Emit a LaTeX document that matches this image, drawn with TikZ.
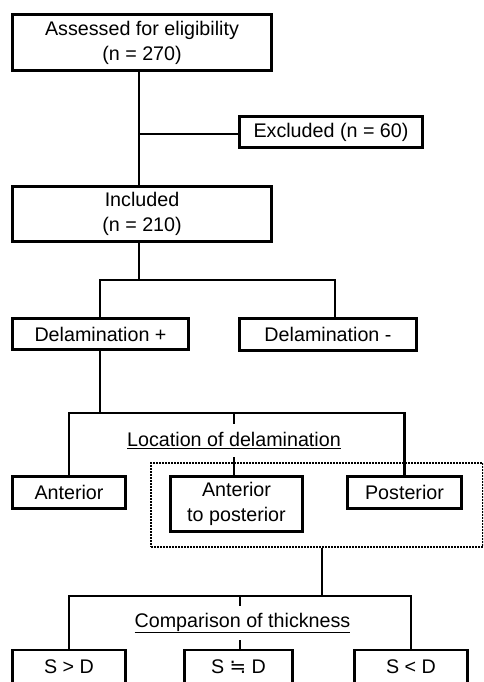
\documentclass[tikz,border=0pt]{standalone}
\usepackage{fontspec}
\setmainfont{Liberation Sans}
\newfontfamily\eqsymfont{DejaVu Sans}

\begin{document}
\begin{tikzpicture}[x=1pt, y=-1pt, line width=2.2pt,
         font=\fontsize{19.7}{25}\selectfont]
  \tikzstyle{box}=[draw=black, shape=rectangle, inner sep=0pt, align=center]
  \tikzstyle{head}=[draw=none, fill=white, inner sep=0pt]
  \tikzstyle{group}=[draw=black, shape=rectangle, dash pattern=on 1.6pt off 1.4pt]
\useasboundingbox (0,0) rectangle (483,682);
\clip (0,0) rectangle (483,682);
% boxes
\node[box, minimum width=259pt, minimum height=56pt] (assess) at (142,42.5) {Assessed for eligibility\\(n = 270)};
\node[box, minimum width=183pt, minimum height=31pt] (excl) at (331,132) {Excluded (n = 60)};
\node[box, minimum width=259pt, minimum height=55pt] (incl) at (142,214) {Included\\(n = 210)};
\node[box, minimum width=176pt, minimum height=31pt] (delp) at (100.5,334) {Delamination +};
\node[box, minimum width=177pt, minimum height=32pt] (delm) at (328,334.5) {Delamination -};
\node[group, minimum width=332pt, minimum height=84pt] (grp) at (317,505) {};
\node[box, minimum width=113pt, minimum height=32pt] (ant) at (69,492.5) {Anterior};
\node[box, minimum width=132pt, minimum height=55pt] (antpost) at (236.5,504) {Anterior\\to posterior};
\node[box, minimum width=114pt, minimum height=32pt] (post) at (404.5,492.5) {Posterior};
\node[box, minimum width=113pt, minimum height=34pt] (sgt) at (69,667) {S > D};
\node[box, minimum width=108pt, minimum height=34pt] (seq) at (238.5,667) {S {\eqsymfont ≒} D};
\node[box, minimum width=113pt, minimum height=34pt] (slt) at (411,667) {S < D};
% connectors
\coordinate (trunk) at (139,134);
\coordinate (split) at (139,280);
\coordinate (locbar) at (100,413);
\coordinate (loctick) at (234,413);
\coordinate (cmpbar) at (322,596);
\coordinate (cmptick) at (240,596);
\draw (trunk |- assess.south) -- (trunk |- incl.north);
\draw (trunk) -- (trunk -| excl.west);
\draw (trunk |- incl.south) -- (split);
\draw ([xshift=-0.5pt]delp.north) |- (split) -| ([xshift=7pt]delm.north);
\draw ([xshift=-0.5pt]delp.south) -- (locbar);
\draw (ant.north) -- (ant.north |- locbar) -- (post.north |- locbar) -- (post.north);
\draw (loctick) -- (loctick |- antpost.north);
\draw (cmpbar |- grp.south) -- (cmpbar);
\draw (sgt.north) -- (sgt.north |- cmpbar) -- (slt.north |- cmpbar) -- (slt.north);
\draw (cmptick) -- (cmptick |- seq.north);
% headings
\node[head, minimum height=33pt] (lochead) at (234,440.5) {\underline{Location of delamination}};
\node[head, minimum height=34pt] (cmphead) at (242.5,623) {\underline{Comparison of thickness}};
\end{tikzpicture}
\end{document}
